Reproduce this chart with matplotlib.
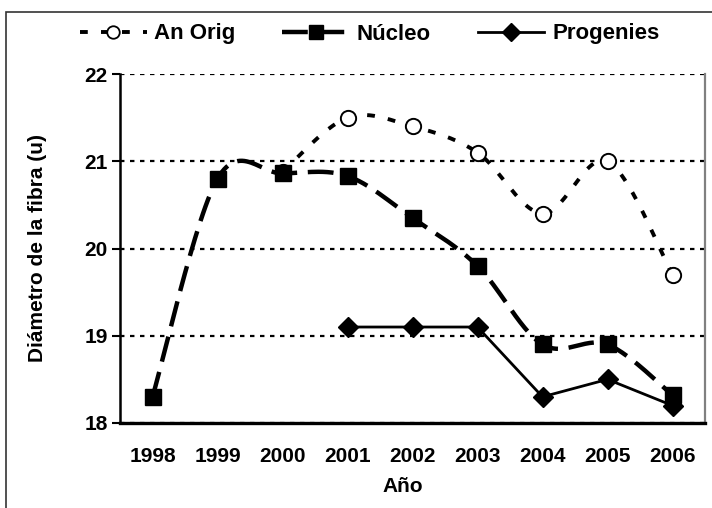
import numpy as np
import matplotlib
matplotlib.use("Agg")
import matplotlib.pyplot as plt
from matplotlib.patches import Rectangle

plt.rcParams['font.family'] = ['Liberation Sans', 'DejaVu Sans']
plt.rcParams['font.weight'] = 'bold'

years = ["1998", "1999", "2000", "2001", "2002", "2003", "2004", "2005", "2006"]
an_orig = [np.nan, np.nan, 20.88, 21.5, 21.4, 21.1, 20.4, 21.0, 19.7]
nucleo = [18.3, 20.8, 20.86, 20.83, 20.35, 19.8, 18.9, 18.9, 18.32]
progenies = [np.nan, np.nan, np.nan, 19.1, 19.1, 19.1, 18.3, 18.5, 18.2]


def smooth(xs, ys, n=30):
    """Excel-like smoothed line (Catmull-Rom as cubic Bezier)."""
    pts = [(x, y) for x, y in zip(xs, ys) if not np.isnan(y)]
    p = np.array(pts, dtype=float)
    out = [p[0]]
    t = np.linspace(0, 1, n)[1:, None]
    for i in range(len(p) - 1):
        p0 = p[max(i - 1, 0)]
        p1, p2 = p[i], p[i + 1]
        p3 = p[min(i + 2, len(p) - 1)]
        c1 = p1 + (p2 - p0) / 6
        c2 = p2 - (p3 - p1) / 6
        seg = ((1 - t) ** 3) * p1 + 3 * ((1 - t) ** 2) * t * c1 + 3 * (1 - t) * t ** 2 * c2 + t ** 3 * p2
        out.extend(seg)
    out = np.array(out)
    return out[:, 0], out[:, 1]


FS = 15

fig = plt.figure(figsize=(7.12, 5.08), dpi=100)
fig.patches.append(Rectangle((6 / 712, -0.1), 1.2, 1 - 12 / 508 + 0.1, transform=fig.transFigure,
                             fill=False, edgecolor='#333333', linewidth=1.2))
ax = fig.add_axes([120 / 712, 1 - 423 / 508, 585 / 712, 349 / 508])

x = np.arange(len(years))

an_style = dict(color='black', lw=2.8, linestyle=(0, (2.0, 3.4)))
nu_style = dict(color='black', lw=3.2, linestyle=(0, (5.8, 2.4)))

# An Orig: short dashes, open circles
sx, sy = smooth(x, an_orig)
ax.plot(sx, sy, zorder=3, **an_style)
ax.plot(x, an_orig, linestyle='none', marker='o', ms=11, mfc='white', mec='black', mew=1.4, zorder=4)

# Núcleo: long dashes, squares
sx, sy = smooth(x, nucleo)
ax.plot(sx, sy, zorder=3, **nu_style)
ax.plot(x, nucleo, linestyle='none', marker='s', ms=11, color='black', zorder=5)

# Progenies: straight line, diamonds
ax.plot(x, progenies, color='black', lw=2, marker='D', ms=10, zorder=5)

# legend proxies
h1, = ax.plot([], [], marker='o', ms=9, mfc='white', mec='black', mew=1.3, **an_style)
h2, = ax.plot([], [], marker='s', ms=10, **nu_style)
h3, = ax.plot([], [], color='black', lw=2, marker='D', ms=9)
fig.legend([h1, h2, h3], ["An Orig", "Núcleo", "Progenies"], loc='center left', ncol=3,
           bbox_to_anchor=(80 / 712, 1 - 34 / 508), frameon=False, fontsize=16,
           handlelength=3.0, handletextpad=0.35, columnspacing=2.1,
           borderaxespad=0, borderpad=0)

ax.set_xlim(-0.5, len(years) - 0.5)
ax.set_ylim(18, 22)
ax.set_yticks([18, 19, 20, 21, 22])
ax.set_xticks(x)
ax.set_xticklabels(years)
ax.tick_params(axis='x', length=0, labelsize=FS, pad=17)
ax.tick_params(axis='y', length=6, width=1.5, labelsize=FS, direction='out', pad=3)
for lbl in ax.get_xticklabels() + ax.get_yticklabels():
    lbl.set_fontweight('bold')

ax.grid(axis='y', color='black', linestyle=(0, (2, 2.5)), linewidth=1.6)
ax.spines['top'].set_visible(False)
ax.spines['left'].set_linewidth(1.8)
ax.spines['bottom'].set_linewidth(2.4)
ax.spines['right'].set_color('#808080')
ax.spines['right'].set_linewidth(1.6)

ax.set_xlabel("Año", fontsize=FS, fontweight='bold')
ax.set_ylabel("Diámetro de la fibra (u)", fontsize=FS, fontweight='bold')
ax.xaxis.set_label_coords(0.484, -0.155)
ax.yaxis.set_label_coords(-0.125, 0.5)

fig.savefig("out.png", dpi=100)
